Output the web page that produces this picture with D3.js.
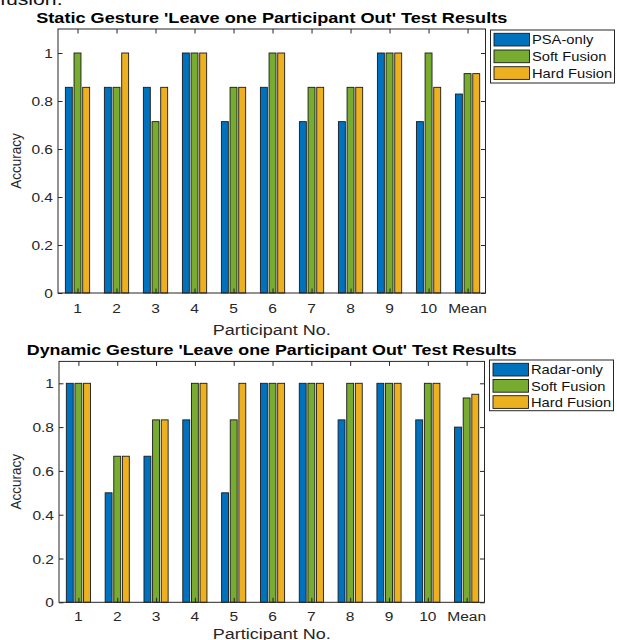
<!DOCTYPE html>
<html>
<head>
<meta charset="utf-8">
<script src="https://cdn.jsdelivr.net/npm/d3@7"></script>
<style>
  html, body { margin: 0; padding: 0; background: #fff; }
  svg { display: block; }
  text { font-family: "Liberation Sans", Arial, Helvetica, sans-serif; }
</style>
</head>
<body>
<svg id="fig" width="617" height="640"></svg>
<script>
// Categories (participants + overall mean)
const participants = ["1", "2", "3", "4", "5", "6", "7", "8", "9", "10", "Mean"];

// Static gesture accuracy per participant
const staticPSA  = [0.857, 0.857, 0.857, 1, 0.714, 0.857, 0.714, 0.714, 1, 0.714, 0.829];
const staticSoft = [1, 0.857, 0.714, 1, 0.857, 1, 0.857, 0.857, 1, 1, 0.914];
const staticHard = [0.857, 1, 0.857, 1, 0.857, 1, 0.857, 0.857, 1, 0.857, 0.914];

// Dynamic gesture accuracy per participant
const dynRadar = [1, 0.5, 0.667, 0.833, 0.5, 1, 1, 0.833, 1, 0.833, 0.8];
const dynSoft  = [1, 0.667, 0.833, 1, 0.833, 1, 1, 1, 1, 1, 0.933];
const dynHard  = [1, 0.667, 0.833, 1, 1, 1, 1, 1, 1, 1, 0.95];

// Axis ticks
const yTicks = [0, 0.2, 0.4, 0.6, 0.8, 1];
const yTickLabels = ["0", "0.2", "0.4", "0.6", "0.8", "1"];

const staticNames = ["PSA-only", "Soft Fusion", "Hard Fusion"];
const dynamicNames = ["Radar-only", "Soft Fusion", "Hard Fusion"];

const colors = ["#0072BD", "#77AC30", "#EDB120"];
const ink = "#262626";

const svg = d3.select("#fig");

// text helper: places a horizontally-stretched label
function label(parent, x, y, str, o = {}) {
  const sx = o.sx || 1.15;
  const t = parent.append("text")
    .attr("transform", o.rotate
      ? `translate(${x},${y}) rotate(-90) scale(1,${sx})`
      : `translate(${x},${y}) scale(${sx},1)`)
    .attr("font-size", o.size || 13.5)
    .attr("fill", o.fill || ink)
    .attr("text-anchor", o.anchor || "middle")
    .text(str);
  if (o.bold) t.attr("font-weight", "bold");
  return t;
}

// stray line of running text above the figure
svg.append("text")
  .attr("transform", "translate(0,5) scale(1.25,1)")
  .attr("font-family", "'Liberation Serif', 'Times New Roman', serif")
  .attr("font-size", 17)
  .attr("fill", "#111")
  .text("fusion.");

function panel(cfg) {
  const g = svg.append("g");
  const x = d3.scaleLinear().domain([0.5, 11.46]).range([cfg.left, cfg.right]);
  const y = d3.scaleLinear().domain([0, 1.1]).range([cfg.base, cfg.top]);

  const series = cfg.series;
  const nS = series.length;
  const groupW = Math.min(0.8, nS / (nS + 1.5));
  const step = groupW / nS;
  const barW = step * 0.8;

  // bars
  series.forEach((vals, si) => {
    const off = (si - (nS - 1) / 2) * step;
    g.append("g").selectAll("rect")
      .data(vals)
      .join("rect")
      .attr("x", (d, i) => x(i + 1 + off - barW / 2))
      .attr("width", x(barW) - x(0))
      .attr("y", d => y(d))
      .attr("height", d => y(0) - y(d))
      .attr("fill", colors[si])
      .attr("stroke", "#1a1a1a")
      .attr("stroke-width", 0.9);
  });

  // axes with inward ticks on all four sides
  const tl = 4.5;
  const axL = d3.axisLeft(y).tickValues(yTicks).tickSize(-tl).tickFormat("");
  const axR = d3.axisRight(y).tickValues(yTicks).tickSize(-tl).tickFormat("");
  const xIdx = participants.map((d, i) => i + 1);
  const axB = d3.axisBottom(x).tickValues(xIdx).tickSize(-tl).tickFormat("");
  const axT = d3.axisTop(x).tickValues(xIdx).tickSize(-tl).tickFormat("");
  [[axL, `translate(${cfg.left},0)`], [axR, `translate(${cfg.right},0)`],
   [axB, `translate(0,${cfg.base})`], [axT, `translate(0,${cfg.top})`]].forEach(([ax, tr]) => {
    const a = g.append("g").attr("transform", tr).call(ax);
    a.select(".domain").remove();
    a.selectAll("line").attr("stroke", ink).attr("stroke-width", 1);
  });
  g.append("rect")
    .attr("x", cfg.left).attr("y", cfg.top)
    .attr("width", cfg.right - cfg.left).attr("height", cfg.base - cfg.top)
    .attr("fill", "none").attr("stroke", ink).attr("stroke-width", 1);

  // tick labels
  yTicks.forEach((v, i) => {
    label(g, cfg.left - 5, y(v) + 5, yTickLabels[i], { anchor: "end" });
  });
  participants.forEach((p, i) => {
    label(g, x(i + 1), cfg.xLabY, p);
  });

  // axis titles
  const mid = (cfg.left + cfg.right) / 2;
  label(g, mid, cfg.xTitleY, "Participant No.", { size: 15, sx: 1.2 });
  label(g, 21, (cfg.top + cfg.base) / 2, "Accuracy", { size: 13.5, sx: 1.15, rotate: true });

  // chart title
  label(g, mid, cfg.titleY, cfg.title, { size: 15, sx: 1.2, bold: true, fill: "#000" })
    .attr("textLength", cfg.titleLen / 1.2)
    .attr("lengthAdjust", "spacingAndGlyphs");

  // legend
  const lg = g.append("g");
  lg.append("rect")
    .attr("x", cfg.legX).attr("y", cfg.legY)
    .attr("width", 124).attr("height", cfg.legH)
    .attr("fill", "#fff").attr("stroke", ink).attr("stroke-width", 1);
  cfg.names.forEach((n, i) => {
    const ry = cfg.legY + 3.3 + i * cfg.legStep;
    lg.append("rect")
      .attr("x", cfg.legX + 3.5).attr("y", ry)
      .attr("width", 35.5).attr("height", 12.7)
      .attr("fill", colors[i]).attr("stroke", "#1a1a1a").attr("stroke-width", 0.9);
    label(lg, cfg.legX + 41.5, ry + 11, n, { anchor: "start", size: 12.8, fill: "#111" });
  });
}

panel({
  series: [staticPSA, staticSoft, staticHard],
  names: staticNames,
  title: "Static Gesture 'Leave one Participant Out' Test Results",
  titleLen: 471, titleY: 22.5,
  left: 58, right: 485.5, top: 29, base: 293,
  xLabY: 313, xTitleY: 334.5,
  legX: 490.5, legY: 30, legH: 53, legStep: 16.7
});

panel({
  series: [dynRadar, dynSoft, dynHard],
  names: dynamicNames,
  title: "Dynamic Gesture 'Leave one Participant Out' Test Results",
  titleLen: 490, titleY: 355,
  left: 59, right: 484.5, top: 361.4, base: 602.3,
  xLabY: 620.5, xTitleY: 639,
  legX: 489.5, legY: 360, legH: 50.7, legStep: 16.2
});
</script>
</body>
</html>
